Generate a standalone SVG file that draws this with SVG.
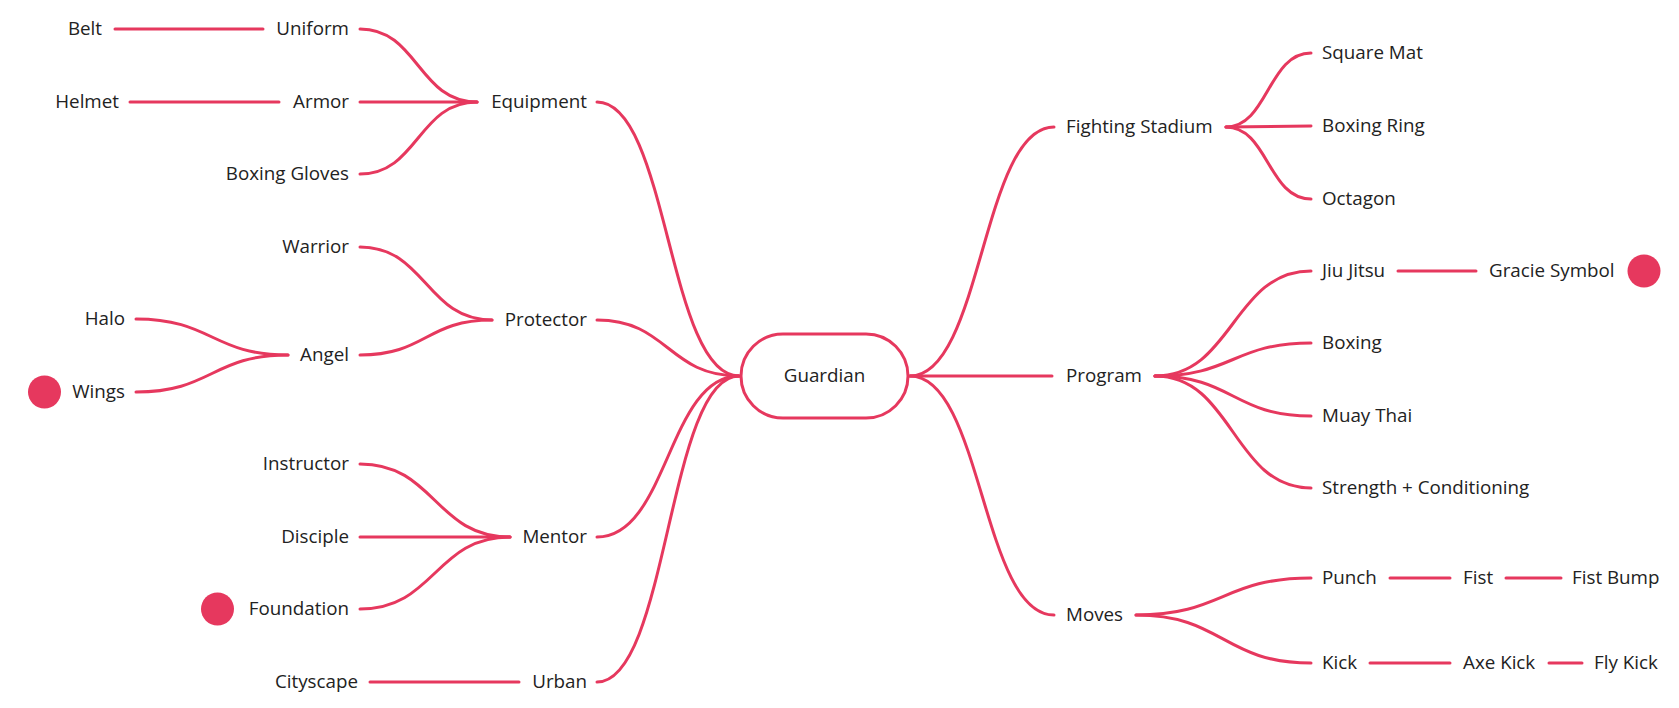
<svg xmlns="http://www.w3.org/2000/svg" width="1679" height="708" viewBox="0 0 1679 708">
<style>
.t{font-family:"Open Sans","Liberation Sans",sans-serif;font-size:18.8px;fill:#222;}
.e{text-anchor:end;}
.c{text-anchor:middle;}
.l{fill:none;stroke:#E6385E;stroke-width:3;stroke-linecap:round;}
.d{fill:#E6385E;}
</style>
<rect width="1679" height="708" fill="#fff"/>
<g id="connectors">
<path class="l" d="M597,102 C668,102 668,376 739,376"/>
<path class="l" d="M597,320 C668,320 668,376 739,376"/>
<path class="l" d="M597,537 C668,537 668,376 739,376"/>
<path class="l" d="M597,682 C668,682 668,376 739,376"/>
<path class="l" d="M910,376 C982,376 982,127 1054,127"/>
<path class="l" d="M910,376 L1052,376"/>
<path class="l" d="M910,376 C982,376 982,615 1054,615"/>
<path class="l" d="M360,29 C418,29 418,102 477,102"/>
<path class="l" d="M360,102 L477,102"/>
<path class="l" d="M360,174 C418,174 418,102 477,102"/>
<path class="l" d="M360,247 C426,247 426,320 492,320"/>
<path class="l" d="M360,355 C426,355 426,320 492,320"/>
<path class="l" d="M360,464 C435,464 435,537 510,537"/>
<path class="l" d="M360,537 L510,537"/>
<path class="l" d="M360,609 C435,609 435,537 510,537"/>
<path class="l" d="M115,29 L263,29"/>
<path class="l" d="M130,102 L279,102"/>
<path class="l" d="M136,319 C212,319 212,355 288,355"/>
<path class="l" d="M136,392 C212,392 212,355 288,355"/>
<path class="l" d="M370,682 L519,682"/>
<path class="l" d="M1226,127 C1268,127 1268,53 1311,53"/>
<path class="l" d="M1226,127 L1311,126"/>
<path class="l" d="M1226,127 C1268,127 1268,199 1311,199"/>
<path class="l" d="M1155,376 C1233,376 1233,271 1311,271"/>
<path class="l" d="M1155,376 C1233,376 1233,343 1311,343"/>
<path class="l" d="M1155,376 C1233,376 1233,416 1311,416"/>
<path class="l" d="M1155,376 C1233,376 1233,488 1311,488"/>
<path class="l" d="M1136,615 C1223,615 1223,578 1311,578"/>
<path class="l" d="M1136,615 C1223,615 1223,663 1311,663"/>
<path class="l" d="M1398,271 L1476,271"/>
<path class="l" d="M1390,578 L1450,578"/>
<path class="l" d="M1506,578 L1561,578"/>
<path class="l" d="M1370,663 L1450,663"/>
<path class="l" d="M1549,663 L1582,663"/>
</g>
<g id="guardian"><rect x="741" y="334" width="167" height="84" rx="42" fill="#fff" stroke="#E6385E" stroke-width="3"/><text class="t c" x="824.5" y="382">Guardian</text></g>
<g id="equipment"><text class="t e" x="587" y="108">Equipment</text></g>
<g id="protector"><text class="t e" x="587" y="326">Protector</text></g>
<g id="mentor"><text class="t e" x="587" y="543">Mentor</text></g>
<g id="urban"><text class="t e" x="587" y="688">Urban</text></g>
<g id="uniform"><text class="t e" x="349" y="35">Uniform</text></g>
<g id="armor"><text class="t e" x="349" y="108">Armor</text></g>
<g id="boxing-gloves"><text class="t e" x="349" y="180">Boxing Gloves</text></g>
<g id="warrior"><text class="t e" x="349" y="253">Warrior</text></g>
<g id="angel"><text class="t e" x="349" y="361">Angel</text></g>
<g id="instructor"><text class="t e" x="349" y="470">Instructor</text></g>
<g id="disciple"><text class="t e" x="349" y="543">Disciple</text></g>
<g id="foundation"><circle class="d" cx="217.5" cy="609" r="16.5"/><text class="t e" x="349" y="615">Foundation</text></g>
<g id="belt"><text class="t e" x="102" y="35">Belt</text></g>
<g id="helmet"><text class="t e" x="119" y="108">Helmet</text></g>
<g id="halo"><text class="t e" x="125" y="325">Halo</text></g>
<g id="wings"><circle class="d" cx="44.5" cy="392" r="16.5"/><text class="t e" x="125" y="398">Wings</text></g>
<g id="cityscape"><text class="t e" x="358" y="688">Cityscape</text></g>
<g id="fighting-stadium"><text class="t" x="1066" y="133">Fighting Stadium</text></g>
<g id="program"><text class="t" x="1066" y="382">Program</text></g>
<g id="moves"><text class="t" x="1066" y="621">Moves</text></g>
<g id="square-mat"><text class="t" x="1322" y="59">Square Mat</text></g>
<g id="boxing-ring"><text class="t" x="1322" y="132">Boxing Ring</text></g>
<g id="octagon"><text class="t" x="1322" y="205">Octagon</text></g>
<g id="jiu-jitsu"><text class="t" x="1322" y="277">Jiu Jitsu</text></g>
<g id="boxing"><text class="t" x="1322" y="349">Boxing</text></g>
<g id="muay-thai"><text class="t" x="1322" y="422">Muay Thai</text></g>
<g id="strength"><text class="t" x="1322" y="494">Strength + Conditioning</text></g>
<g id="punch"><text class="t" x="1322" y="584">Punch</text></g>
<g id="kick"><text class="t" x="1322" y="669">Kick</text></g>
<g id="gracie-symbol"><text class="t" x="1489" y="277">Gracie Symbol</text><circle class="d" cx="1644" cy="271" r="16.5"/></g>
<g id="fist"><text class="t" x="1463" y="584">Fist</text></g>
<g id="fist-bump"><text class="t" x="1572" y="584">Fist Bump</text></g>
<g id="axe-kick"><text class="t" x="1463" y="669">Axe Kick</text></g>
<g id="fly-kick"><text class="t" x="1594" y="669">Fly Kick</text></g>
</svg>
